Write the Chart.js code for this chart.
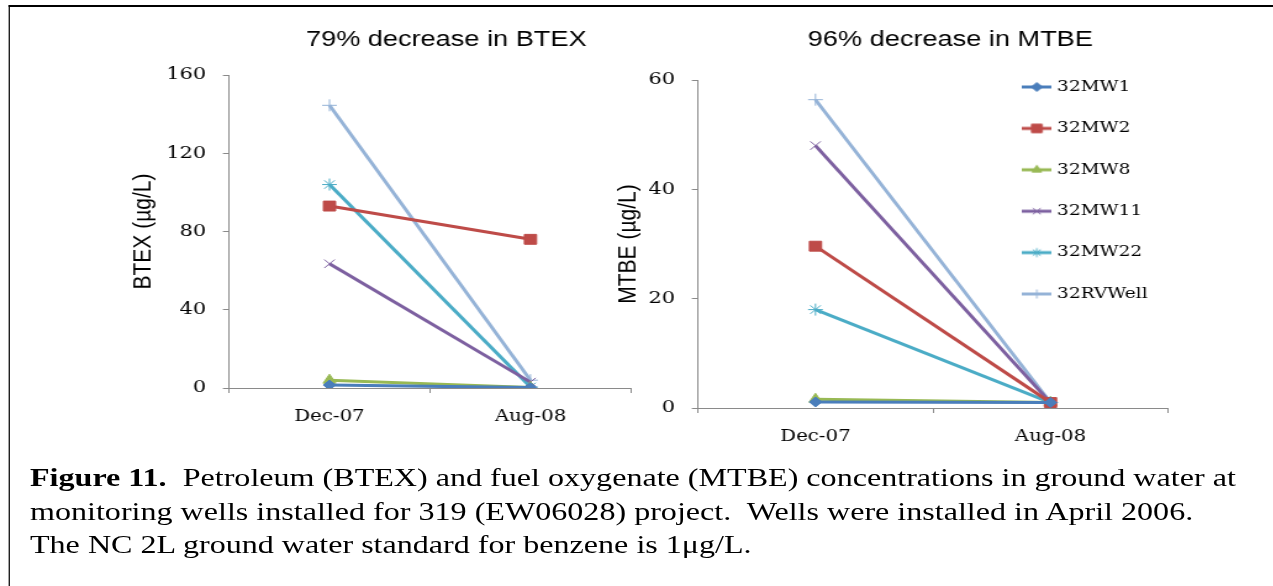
<!DOCTYPE html>
<html>
<head>
<meta charset="utf-8">
<title>BTEX and MTBE in ground water</title>
<script src="https://cdn.jsdelivr.net/npm/chart.js@4.4.0/dist/chart.umd.min.js"></script>
<style>
  html, body { margin: 0; padding: 0; background: #fff; overflow: hidden; }
  /* the source figure is stretched sideways, so the whole page is too */
  #page { position: relative; width: 1032px; height: 586px; overflow: hidden;
          transform: scaleX(1.234); transform-origin: 0 0; }
  #frame { position: absolute; left: 6.5px; top: 5px; width: 1040px; height: 590px;
           border-left: 1.7px solid #000; border-top: 2px solid #000; }
  canvas { position: absolute; }
  #btexChart { left: 90px; top: 10px; }
  #mtbeChart { left: 480px; top: 10px; }
  #caption { position: absolute; left: 24.3px; top: 461px; color: #000;
             font-family: "Liberation Serif", "Times New Roman", serif;
             font-size: 26px; line-height: 33.5px; white-space: nowrap; }
</style>
</head>
<body>
<div id="page">
  <div id="frame"></div>
  <canvas id="btexChart" width="534" height="428"></canvas>
  <canvas id="mtbeChart" width="568" height="448"></canvas>
  <div id="caption"><b>Figure 11.</b>&nbsp; Petroleum (BTEX) and fuel oxygenate (MTBE) concentrations in ground water at<br>monitoring wells installed for 319 (EW06028) project.&nbsp; Wells were installed in April 2006.<br>The NC 2L ground water standard for benzene is 1μg/L.</div>
</div>

<script>
  // sampling dates and wells
  const dates = ['Dec-07', 'Aug-08'];
  const wells = ['32MW1', '32MW2', '32MW8', '32MW11', '32MW22', '32RVWell'];

  // BTEX (ug/L) per well: [Dec-07, Aug-08]
  const btexMW1 = [1.5, 0.2];
  const btexMW2 = [93, 76];
  const btexMW8 = [4, 0.3];
  const btexMW11 = [63.5, 3];
  const btexMW22 = [104, 0.5];
  const btexRVWell = [144.5, 4];

  // MTBE (ug/L) per well: [Dec-07, Aug-08]
  const mtbeMW1 = [1.1, 1];
  const mtbeMW2 = [29.6, 1];
  const mtbeMW8 = [1.6, 1];
  const mtbeMW11 = [48, 1];
  const mtbeMW22 = [18, 1];
  const mtbeRVWell = [56.4, 1];

  const btexTicks = [0, 40, 80, 120, 160];
  const mtbeTicks = [0, 20, 40, 60];

  const colors = ['#4A7EBB', '#BE4B48', '#98B954', '#7D60A0', '#4BACC6', '#95B3D7'];
  const markers = ['rectRot', 'rect', 'triangle', 'crossRot', 'star', 'cross'];
  const markerSize = [5, 7, 6, 6, 6, 6];

  function makeDatasets(series) {
    return series.map((values, i) => ({
      label: wells[i],
      data: values,
      borderColor: colors[i],
      backgroundColor: colors[i],
      borderWidth: 3,
      pointStyle: markers[i],
      pointRadius: markerSize[i],
      pointBorderWidth: 1,
      pointBorderColor: colors[i],
      pointBackgroundColor: colors[i],
      tension: 0
    }));
  }

  // little line + marker pictures for the legend
  const legendIcons = colors.map((c, i) => {
    const cv = document.createElement('canvas');
    cv.width = 24; cv.height = 14;
    const g = cv.getContext('2d');
    g.strokeStyle = c; g.lineWidth = 3;
    g.beginPath(); g.moveTo(0, 7); g.lineTo(24, 7); g.stroke();
    g.fillStyle = c; g.strokeStyle = c; g.lineWidth = 1;
    Chart.helpers.drawPoint(g, { pointStyle: markers[i], radius: i === 1 ? 6 : 4.5, borderWidth: 1, rotation: 0 }, 12, 7);
    return cv;
  });

  // Excel puts the legend over the plot area, top right
  const legendInPlot = {
    id: 'legendInPlot',
    afterLayout(chart) {
      if (!chart.options.plugins.legend.display) return;
      const lg = chart.legend;
      const area = chart.chartArea;
      lg.left = area.right - 141.6;
      lg.right = lg.left + 220;
      lg.top = area.top - 26.9;
      lg.bottom = lg.top + 320;
    }
  };

  function makeOptions(titleText, yTitle, ticks, yWidth, padLeft, padRight, titleBottom, showLegend) {
    const axisColor = '#8a8a8a';
    return {
      responsive: false,
      animation: false,
      layout: { padding: { left: padLeft, right: 0, top: 0, bottom: 0 } },
      plugins: {
        title: {
          display: true,
          text: titleText,
          color: '#000',
          font: { family: 'Liberation Sans', size: 22, weight: 'normal' },
          padding: { top: 16.8, bottom: titleBottom }
        },
        legend: {
          display: showLegend,
          position: 'chartArea',
          align: 'start',
          labels: {
            usePointStyle: true,
            pointStyleWidth: 17.8,
            padding: 26.4,
            color: '#000',
            font: { family: 'DejaVu Serif', size: 15 },
            generateLabels(chart) {
              const items = Chart.defaults.plugins.legend.labels.generateLabels(chart);
              items.forEach(it => { it.pointStyle = legendIcons[it.datasetIndex]; });
              return items;
            }
          }
        },
        tooltip: { enabled: false }
      },
      scales: {
        x: {
          type: 'category',
          offset: true,
          grid: { offset: true, drawOnChartArea: false, tickLength: 5, color: axisColor },
          border: { color: axisColor },
          ticks: { color: '#000', font: { family: 'DejaVu Serif', size: 16 }, padding: 14.4, maxRotation: 0 },
          afterFit: s => { s.height = 50; }
        },
        y: {
          min: 0,
          max: ticks[ticks.length - 1],
          afterBuildTicks: s => { s.ticks = ticks.map(v => ({ value: v })); },
          grid: { drawOnChartArea: false, tickLength: 5, color: axisColor },
          border: { color: axisColor },
          ticks: { color: '#000', font: { family: 'DejaVu Serif', size: 17 }, padding: 13.5 },
          title: {
            display: true,
            text: yTitle,
            color: '#000',
            font: { family: 'Liberation Sans', size: 21 },
            padding: { top: 4, bottom: 4 }
          },
          afterFit: s => { s.width = yWidth; }
        },
        // empty space on the right so the title sits where Excel put it
        pad: {
          type: 'linear',
          position: 'right',
          grid: { display: false },
          border: { display: false },
          ticks: { display: false },
          afterFit: s => { s.width = padRight; }
        }
      }
    };
  }

  new Chart(document.getElementById('btexChart'), {
    type: 'line',
    data: {
      labels: dates,
      datasets: makeDatasets([btexMW1, btexMW2, btexMW8, btexMW11, btexMW22, btexRVWell])
    },
    options: makeOptions('79% decrease in BTEX', 'BTEX (µg/L)', btexTicks, 86.3, 9.3, 112.7, 21.8, false)
  });

  new Chart(document.getElementById('mtbeChart'), {
    type: 'line',
    data: {
      labels: dates,
      datasets: makeDatasets([mtbeMW1, mtbeMW2, mtbeMW8, mtbeMW11, mtbeMW22, mtbeRVWell])
    },
    options: makeOptions('96% decrease in MTBE', 'MTBE (µg/L)', mtbeTicks, 73.3, 12.3, 101.5, 26.8, true),
    plugins: [legendInPlot]
  });
</script>
</body>
</html>
